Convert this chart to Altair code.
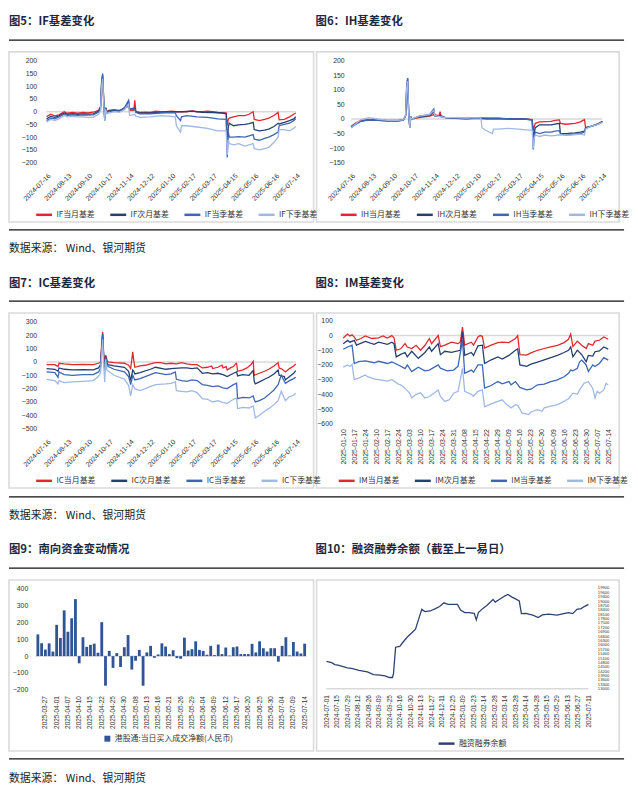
import altair as alt
import pandas as pd

NUMF = "Liberation Sans"
CJKF = "Noto Sans CJK SC"
W, H = 622, 782

# ---------------- trading calendars ----------------
CN_CLOSED = ["2024-09-16", "2024-09-17", "2024-10-01", "2024-10-02", "2024-10-03", "2024-10-04",
             "2024-10-07", "2025-01-01", "2025-01-28", "2025-01-29", "2025-01-30", "2025-01-31",
             "2025-02-03", "2025-02-04", "2025-04-04", "2025-05-01", "2025-05-02", "2025-05-05",
             "2025-06-02"]
HK_CLOSED = ["2025-04-18", "2025-04-21", "2025-07-01"]


def trading_days(start, end, closed):
    closed = set(closed)
    return [d.strftime("%Y-%m-%d") for d in pd.bdate_range(start, end)
            if d.strftime("%Y-%m-%d") not in closed]


DAYS_Y = trading_days("2024-07-16", "2025-07-14", CN_CLOSED)
DAYS_IM = trading_days("2025-01-10", "2025-07-14", CN_CLOSED)
DAYS_HK = trading_days("2025-03-25", "2025-07-14", CN_CLOSED + HK_CLOSED)
DAYS_MG = trading_days("2024-07-01", "2025-07-11", CN_CLOSED)

TICKS_Y = DAYS_Y[::20]
TICKS_IM = DAYS_IM[::5]
TICKS_HK = DAYS_HK[2::3]
TICKS_MG = DAYS_MG[::10]

# ---------------- IF basis ----------------
IF_NAMES = ["IF当月基差", "IF次月基差", "IF当季基差", "IF下季基差"]
IF_M0 = [("2024-07-16", -19), ("2024-07-22", -10), ("2024-07-26", -16), ("2024-08-01", -12), ("2024-08-08", 0),
         ("2024-08-13", -6), ("2024-08-20", -3), ("2024-08-27", -6), ("2024-09-03", -3), ("2024-09-10", -5),
         ("2024-09-19", -2), ("2024-09-26", 5), ("2024-09-30", 20), ("2024-10-08", 100), ("2024-10-09", 135),
         ("2024-10-10", 40), ("2024-10-11", -25), ("2024-10-14", 15), ("2024-10-15", 0), ("2024-10-17", 5),
         ("2024-10-24", 8), ("2024-10-31", 5), ("2024-11-07", 12), ("2024-11-11", 18), ("2024-11-13", 22),
         ("2024-11-14", 5), ("2024-11-20", 5), ("2024-11-21", 45), ("2024-11-22", 0), ("2024-11-28", -3),
         ("2024-12-05", -2), ("2024-12-12", -3), ("2024-12-19", 2), ("2024-12-26", 0), ("2025-01-03", 0),
         ("2025-01-10", 2), ("2025-01-17", 0), ("2025-01-24", 0), ("2025-02-10", 0), ("2025-02-17", 3),
         ("2025-02-24", 0), ("2025-03-03", 0), ("2025-03-10", 2), ("2025-03-17", 0), ("2025-03-24", -3),
         ("2025-03-31", -5), ("2025-04-03", -5), ("2025-04-07", -55), ("2025-04-08", -30), ("2025-04-09", -25),
         ("2025-04-15", -20), ("2025-04-22", -15), ("2025-04-30", -15), ("2025-05-09", -10), ("2025-05-15", 0),
         ("2025-05-16", -30), ("2025-05-23", -35), ("2025-05-30", -30), ("2025-06-06", -25), ("2025-06-13", -15),
         ("2025-06-19", -3), ("2025-06-20", -32), ("2025-06-27", -30), ("2025-07-04", -20), ("2025-07-10", -10),
         ("2025-07-14", -5)]
IF_M1 = [("2024-07-16", -28), ("2024-07-22", -18), ("2024-07-26", -22), ("2024-08-01", -16), ("2024-08-08", -5),
         ("2024-08-13", -10), ("2024-08-20", -8), ("2024-08-27", -10), ("2024-09-03", -8), ("2024-09-10", -9),
         ("2024-09-19", -8), ("2024-09-26", 2), ("2024-09-30", 15), ("2024-10-08", 120), ("2024-10-09", 145),
         ("2024-10-10", 50), ("2024-10-11", -30), ("2024-10-14", 15), ("2024-10-15", 0), ("2024-10-17", 3),
         ("2024-10-24", 5), ("2024-10-31", 3), ("2024-11-07", 15), ("2024-11-11", 25), ("2024-11-13", 40),
         ("2024-11-14", 10), ("2024-11-21", 15), ("2024-11-22", 0), ("2024-11-28", -5), ("2024-12-12", -5),
         ("2024-12-26", -2), ("2025-01-10", 0), ("2025-01-24", 0), ("2025-02-17", 2), ("2025-03-03", -2),
         ("2025-03-17", -3), ("2025-03-31", -5), ("2025-04-03", -8), ("2025-04-07", -150), ("2025-04-08", -60),
         ("2025-04-09", -45), ("2025-04-15", -55), ("2025-04-22", -52), ("2025-04-30", -50), ("2025-05-09", -47),
         ("2025-05-15", -42), ("2025-05-16", -70), ("2025-05-23", -75), ("2025-05-30", -72), ("2025-06-06", -68),
         ("2025-06-13", -58), ("2025-06-19", -45), ("2025-06-20", -48), ("2025-06-27", -42), ("2025-07-04", -35),
         ("2025-07-10", -28), ("2025-07-14", -20)]
IF_Q0 = [("2024-07-16", -35), ("2024-07-22", -25), ("2024-07-26", -28), ("2024-08-01", -20), ("2024-08-08", -10),
         ("2024-08-13", -14), ("2024-08-20", -12), ("2024-08-27", -14), ("2024-09-03", -12), ("2024-09-10", -13),
         ("2024-09-19", -12), ("2024-09-26", -2), ("2024-09-30", 10), ("2024-10-08", 110), ("2024-10-09", 150),
         ("2024-10-10", 55), ("2024-10-11", -35), ("2024-10-14", 15), ("2024-10-15", -2), ("2024-10-17", 0),
         ("2024-10-24", 3), ("2024-10-31", 2), ("2024-11-07", 15), ("2024-11-11", 30), ("2024-11-13", 45),
         ("2024-11-14", 10), ("2024-11-21", 10), ("2024-11-22", -3), ("2024-11-28", -8), ("2024-12-12", -8),
         ("2024-12-26", -5), ("2025-01-10", -3), ("2025-01-16", -4), ("2025-01-17", -15), ("2025-01-23", -35),
         ("2025-01-24", -20), ("2025-02-10", -15), ("2025-02-24", -20), ("2025-03-10", -22), ("2025-03-24", -28),
         ("2025-04-03", -30), ("2025-04-07", -180), ("2025-04-08", -80), ("2025-04-09", -100), ("2025-04-15", -100),
         ("2025-04-22", -98), ("2025-04-30", -100), ("2025-05-09", -95), ("2025-05-15", -90), ("2025-05-16", -108),
         ("2025-05-23", -112), ("2025-05-30", -105), ("2025-06-06", -100), ("2025-06-13", -90), ("2025-06-19", -80),
         ("2025-06-20", -55), ("2025-06-27", -50), ("2025-07-04", -45), ("2025-07-10", -35), ("2025-07-14", -28)]
IF_Q1 = [("2024-07-16", -40), ("2024-07-22", -30), ("2024-07-26", -35), ("2024-08-01", -28), ("2024-08-08", -15),
         ("2024-08-13", -20), ("2024-08-20", -18), ("2024-08-27", -20), ("2024-09-03", -20), ("2024-09-10", -22),
         ("2024-09-19", -22), ("2024-09-26", -10), ("2024-09-30", 5), ("2024-10-08", 95), ("2024-10-09", 130),
         ("2024-10-10", 40), ("2024-10-11", -35), ("2024-10-14", 10), ("2024-10-15", -8), ("2024-10-17", -5),
         ("2024-10-24", 0), ("2024-10-31", -2), ("2024-11-07", 8), ("2024-11-11", 20), ("2024-11-13", 30),
         ("2024-11-14", -15), ("2024-11-21", -10), ("2024-11-22", -18), ("2024-11-28", -22), ("2024-12-12", -20),
         ("2024-12-26", -15), ("2025-01-10", -18), ("2025-01-16", -20), ("2025-01-17", -55), ("2025-01-23", -80),
         ("2025-01-24", -55), ("2025-02-10", -55), ("2025-02-24", -60), ("2025-03-10", -65), ("2025-03-24", -75),
         ("2025-04-03", -75), ("2025-04-07", -170), ("2025-04-08", -110), ("2025-04-09", -125), ("2025-04-15", -130),
         ("2025-04-22", -125), ("2025-04-30", -135), ("2025-05-09", -130), ("2025-05-15", -125), ("2025-05-16", -145),
         ("2025-05-23", -150), ("2025-05-30", -145), ("2025-06-06", -140), ("2025-06-13", -120), ("2025-06-19", -100),
         ("2025-06-20", -70), ("2025-06-27", -70), ("2025-07-04", -75), ("2025-07-10", -65), ("2025-07-14", -58)]

# ---------------- IH basis ----------------
IH_NAMES = ["IH当月基差", "IH次月基差", "IH当季基差", "IH下季基差"]
IH_M0 = [("2024-07-16", -25), ("2024-07-22", -15), ("2024-07-29", -5), ("2024-08-08", -2), ("2024-08-20", -3),
         ("2024-09-03", -5), ("2024-09-19", -5), ("2024-09-26", -2), ("2024-09-30", 10), ("2024-10-08", 60),
         ("2024-10-09", 120), ("2024-10-10", 20), ("2024-10-11", -25), ("2024-10-14", 10), ("2024-10-15", 0),
         ("2024-10-24", 5), ("2024-11-07", 10), ("2024-11-13", 15), ("2024-11-20", 12), ("2024-11-21", 25),
         ("2024-11-22", 8), ("2024-11-28", 5), ("2024-12-12", 2), ("2024-12-26", 0), ("2025-01-10", 2),
         ("2025-01-24", 0), ("2025-02-17", 0), ("2025-03-10", 0), ("2025-03-24", 0), ("2025-04-03", -2),
         ("2025-04-07", -40), ("2025-04-08", -25), ("2025-04-09", -15), ("2025-04-15", -10), ("2025-04-30", -8),
         ("2025-05-09", -5), ("2025-05-15", -3), ("2025-05-16", -15), ("2025-05-23", -18), ("2025-06-06", -15),
         ("2025-06-13", -10), ("2025-06-19", -2), ("2025-06-20", -30), ("2025-06-27", -25), ("2025-07-04", -18),
         ("2025-07-10", -12), ("2025-07-14", -8)]
IH_M1 = [("2024-07-16", -28), ("2024-07-22", -18), ("2024-07-29", -8), ("2024-08-08", -3), ("2024-08-20", -4),
         ("2024-09-03", -6), ("2024-09-19", -6), ("2024-09-26", -3), ("2024-09-30", 10), ("2024-10-08", 100),
         ("2024-10-09", 140), ("2024-10-10", 20), ("2024-10-11", -30), ("2024-10-14", 5), ("2024-10-15", 0),
         ("2024-10-24", 8), ("2024-11-07", 12), ("2024-11-13", 25), ("2024-11-14", 10), ("2024-11-21", 12),
         ("2024-11-28", 5), ("2024-12-12", 3), ("2024-12-26", 2), ("2025-01-10", 3), ("2025-01-24", 2),
         ("2025-02-17", 3), ("2025-03-10", 0), ("2025-03-24", 0), ("2025-04-03", -3), ("2025-04-07", -80),
         ("2025-04-08", -45), ("2025-04-09", -30), ("2025-04-15", -20), ("2025-04-30", -20), ("2025-05-15", -15),
         ("2025-05-16", -50), ("2025-05-23", -50), ("2025-06-06", -48), ("2025-06-13", -45), ("2025-06-19", -42),
         ("2025-06-20", -30), ("2025-06-27", -25), ("2025-07-04", -20), ("2025-07-10", -14), ("2025-07-14", -10)]
IH_Q0 = [("2024-07-16", -30), ("2024-07-22", -20), ("2024-07-29", -8), ("2024-08-08", -2), ("2024-08-20", -5),
         ("2024-09-03", -7), ("2024-09-19", -7), ("2024-09-26", -3), ("2024-09-30", 12), ("2024-10-08", 110),
         ("2024-10-09", 141), ("2024-10-10", 25), ("2024-10-11", -30), ("2024-10-14", 5), ("2024-10-15", 0),
         ("2024-10-24", 10), ("2024-11-07", 15), ("2024-11-13", 35), ("2024-11-14", 12), ("2024-11-21", 10),
         ("2024-11-28", 5), ("2024-12-12", 3), ("2024-12-26", 2), ("2025-01-10", 4), ("2025-01-24", 3),
         ("2025-02-17", 2), ("2025-03-10", 0), ("2025-03-24", 0), ("2025-04-03", -3), ("2025-04-07", -105),
         ("2025-04-08", -60), ("2025-04-09", -45), ("2025-04-15", -50), ("2025-04-22", -45), ("2025-04-30", -45),
         ("2025-05-09", -42), ("2025-05-15", -40), ("2025-05-16", -50), ("2025-05-23", -55), ("2025-06-06", -52),
         ("2025-06-13", -50), ("2025-06-19", -45), ("2025-06-20", -32), ("2025-06-27", -25), ("2025-07-04", -20),
         ("2025-07-10", -14), ("2025-07-14", -8)]
IH_Q1 = [("2024-07-16", -30), ("2024-07-22", -18), ("2024-07-29", -3), ("2024-08-08", 5), ("2024-08-20", 0),
         ("2024-09-03", -5), ("2024-09-19", -5), ("2024-09-26", -2), ("2024-09-30", 12), ("2024-10-08", 100),
         ("2024-10-09", 130), ("2024-10-10", 20), ("2024-10-11", -30), ("2024-10-14", 5), ("2024-10-15", 0),
         ("2024-10-24", 10), ("2024-11-07", 15), ("2024-11-13", 30), ("2024-11-14", 12), ("2024-11-21", 8),
         ("2024-11-28", 5), ("2024-12-12", 5), ("2024-12-26", 3), ("2025-01-10", 5), ("2025-01-16", 3),
         ("2025-01-17", -30), ("2025-01-22", -38), ("2025-02-10", -50), ("2025-02-11", -35), ("2025-02-17", -35),
         ("2025-03-03", -32), ("2025-03-17", -35), ("2025-03-31", -38), ("2025-04-03", -38), ("2025-04-07", -100),
         ("2025-04-08", -65), ("2025-04-09", -55), ("2025-04-15", -60), ("2025-04-22", -55), ("2025-04-30", -58),
         ("2025-05-15", -55), ("2025-05-16", -55), ("2025-05-30", -55), ("2025-06-13", -52), ("2025-06-19", -55),
         ("2025-06-20", -35), ("2025-06-27", -25), ("2025-07-04", -20), ("2025-07-10", -15), ("2025-07-14", -12)]

# ---------------- IC basis ----------------
IC_NAMES = ["IC当月基差", "IC次月基差", "IC当季基差", "IC下季基差"]
IC_M0 = [("2024-07-16", -20), ("2024-07-26", -20), ("2024-07-31", -35), ("2024-08-01", -10), ("2024-08-08", -15),
         ("2024-08-20", -20), ("2024-09-03", -18), ("2024-09-19", -20), ("2024-09-26", -10), ("2024-09-30", 0),
         ("2024-10-08", 120), ("2024-10-09", 225), ("2024-10-10", 60), ("2024-10-11", 10), ("2024-10-14", 50),
         ("2024-10-15", 20), ("2024-10-16", 0), ("2024-10-24", -5), ("2024-11-07", -10), ("2024-11-13", -25),
         ("2024-11-15", -50), ("2024-11-19", 75), ("2024-11-20", 10), ("2024-11-21", -40), ("2024-11-28", -30),
         ("2024-12-05", -25), ("2024-12-12", -15), ("2024-12-19", -5), ("2024-12-26", -5), ("2025-01-03", -15),
         ("2025-01-10", -10), ("2025-01-17", -15), ("2025-01-24", -5), ("2025-02-10", -15), ("2025-02-17", -20),
         ("2025-02-24", -20), ("2025-03-03", -45), ("2025-03-10", -40), ("2025-03-14", -30), ("2025-03-17", -50),
         ("2025-03-24", -40), ("2025-03-28", -25), ("2025-03-31", -45), ("2025-04-03", -35), ("2025-04-07", -60),
         ("2025-04-10", -45), ("2025-04-15", -35), ("2025-04-17", -15), ("2025-04-18", -10), ("2025-04-21", -70),
         ("2025-04-28", -60), ("2025-05-07", -45), ("2025-05-13", -20), ("2025-05-15", 5), ("2025-05-16", -100),
         ("2025-05-23", -85), ("2025-05-30", -70), ("2025-06-06", -55), ("2025-06-13", -30), ("2025-06-19", -5),
         ("2025-06-20", -45), ("2025-06-25", -55), ("2025-06-30", -75), ("2025-07-04", -50), ("2025-07-10", -30),
         ("2025-07-14", -15)]
IC_M1 = [("2024-07-16", -50), ("2024-07-26", -55), ("2024-07-31", -70), ("2024-08-01", -45), ("2024-08-08", -55),
         ("2024-08-20", -60), ("2024-09-03", -58), ("2024-09-19", -60), ("2024-09-26", -45), ("2024-09-30", -20),
         ("2024-10-08", 100), ("2024-10-09", 210), ("2024-10-10", 40), ("2024-10-11", -30), ("2024-10-14", 40),
         ("2024-10-15", 0), ("2024-10-16", -20), ("2024-10-24", -30), ("2024-11-07", -40), ("2024-11-13", -70),
         ("2024-11-15", -140), ("2024-11-19", -60), ("2024-11-20", -70), ("2024-11-21", -90), ("2024-11-28", -80),
         ("2024-12-12", -55), ("2024-12-19", -40), ("2025-01-03", -55), ("2025-01-10", -50), ("2025-01-24", -45),
         ("2025-02-10", -45), ("2025-02-17", -50), ("2025-02-24", -45), ("2025-03-03", -85), ("2025-03-10", -80),
         ("2025-03-17", -90), ("2025-03-24", -85), ("2025-03-31", -95), ("2025-04-07", -110), ("2025-04-15", -85),
         ("2025-04-18", -75), ("2025-04-21", -105), ("2025-04-28", -95), ("2025-05-09", -100), ("2025-05-15", -65),
         ("2025-05-16", -145), ("2025-05-19", -165), ("2025-05-23", -150), ("2025-05-30", -130), ("2025-06-06", -115),
         ("2025-06-13", -90), ("2025-06-19", -60), ("2025-06-20", -100), ("2025-06-27", -110), ("2025-06-30", -135),
         ("2025-07-04", -110), ("2025-07-10", -85), ("2025-07-14", -65)]
IC_Q0 = [("2024-07-16", -75), ("2024-07-26", -80), ("2024-07-31", -115), ("2024-08-01", -75), ("2024-08-08", -95),
         ("2024-08-20", -100), ("2024-09-03", -95), ("2024-09-19", -95), ("2024-09-26", -75), ("2024-09-30", -45),
         ("2024-10-08", 80), ("2024-10-09", 205), ("2024-10-10", 30), ("2024-10-11", -70), ("2024-10-14", 35),
         ("2024-10-15", -30), ("2024-10-24", -55), ("2024-11-07", -75), ("2024-11-13", -110), ("2024-11-15", -170),
         ("2024-11-19", -100), ("2024-11-21", -135), ("2024-11-28", -125), ("2024-12-12", -95), ("2024-12-19", -80),
         ("2025-01-03", -95), ("2025-01-10", -90), ("2025-01-16", -75), ("2025-01-17", -130), ("2025-01-24", -140),
         ("2025-02-10", -145), ("2025-02-17", -135), ("2025-02-24", -140), ("2025-03-03", -170), ("2025-03-10", -175),
         ("2025-03-17", -185), ("2025-03-24", -180), ("2025-03-31", -195), ("2025-04-07", -200), ("2025-04-15", -170),
         ("2025-04-18", -160), ("2025-04-21", -275), ("2025-04-28", -265), ("2025-05-09", -270), ("2025-05-15", -255),
         ("2025-05-16", -280), ("2025-05-19", -300), ("2025-05-23", -290), ("2025-05-30", -270), ("2025-06-06", -245),
         ("2025-06-13", -210), ("2025-06-19", -170), ("2025-06-24", -100), ("2025-06-30", -160), ("2025-07-04", -140),
         ("2025-07-10", -125), ("2025-07-14", -115)]
IC_Q1 = [("2024-07-16", -130), ("2024-07-26", -140), ("2024-07-31", -165), ("2024-08-01", -140), ("2024-08-08", -155),
         ("2024-08-20", -150), ("2024-09-03", -145), ("2024-09-19", -140), ("2024-09-26", -110), ("2024-09-30", -80),
         ("2024-10-08", 50), ("2024-10-09", 170), ("2024-10-10", -20), ("2024-10-11", -150), ("2024-10-14", 20),
         ("2024-10-15", -60), ("2024-10-24", -100), ("2024-11-07", -130), ("2024-11-13", -175), ("2024-11-15", -255),
         ("2024-11-19", -170), ("2024-11-21", -200), ("2024-11-28", -215), ("2024-12-12", -185), ("2024-12-19", -170),
         ("2025-01-03", -165), ("2025-01-10", -160), ("2025-01-16", -150), ("2025-01-17", -215), ("2025-01-24", -220),
         ("2025-02-10", -225), ("2025-02-17", -215), ("2025-02-24", -230), ("2025-03-03", -275), ("2025-03-10", -280),
         ("2025-03-17", -300), ("2025-03-24", -290), ("2025-03-31", -305), ("2025-04-07", -310), ("2025-04-15", -280),
         ("2025-04-18", -270), ("2025-04-21", -350), ("2025-04-28", -340), ("2025-05-09", -345), ("2025-05-15", -330),
         ("2025-05-16", -370), ("2025-05-19", -420), ("2025-05-23", -400), ("2025-05-30", -370), ("2025-06-06", -350),
         ("2025-06-13", -320), ("2025-06-19", -290), ("2025-06-24", -220), ("2025-06-30", -290), ("2025-07-04", -260),
         ("2025-07-10", -250), ("2025-07-14", -235)]

# ---------------- IM basis ----------------
IM_NAMES = ["IM当月基差", "IM次月基差", "IM当季基差", "IM下季基差"]
IM_M0 = [("2025-01-10", -17), ("2025-01-14", 10), ("2025-01-15", -3), ("2025-01-16", 5), ("2025-01-17", -10),
         ("2025-01-20", -32), ("2025-01-22", -20), ("2025-01-24", -3), ("2025-02-06", -20), ("2025-02-11", -15),
         ("2025-02-13", -3), ("2025-02-17", -17), ("2025-02-19", 0), ("2025-02-20", -15), ("2025-02-21", -100),
         ("2025-02-25", -90), ("2025-02-27", -55), ("2025-02-28", -78), ("2025-03-04", -88), ("2025-03-06", -66),
         ("2025-03-10", -100), ("2025-03-12", -66), ("2025-03-14", -20), ("2025-03-17", -55), ("2025-03-20", 0),
         ("2025-03-21", -75), ("2025-03-25", -65), ("2025-03-28", -45), ("2025-04-02", -55), ("2025-04-03", -45),
         ("2025-04-07", 57), ("2025-04-08", -65), ("2025-04-11", -45), ("2025-04-14", -65), ("2025-04-16", -10),
         ("2025-04-17", 0), ("2025-04-18", -5), ("2025-04-21", -85), ("2025-04-24", -65), ("2025-04-29", -48),
         ("2025-05-06", -45), ("2025-05-09", -48), ("2025-05-14", -20), ("2025-05-15", 0), ("2025-05-16", -130),
         ("2025-05-21", -133), ("2025-05-23", -118), ("2025-05-28", -100), ("2025-06-03", -88), ("2025-06-06", -77),
         ("2025-06-11", -66), ("2025-06-16", -48), ("2025-06-18", -25), ("2025-06-19", 10), ("2025-06-20", -75),
         ("2025-06-24", -38), ("2025-06-26", -66), ("2025-06-30", -88), ("2025-07-01", -55), ("2025-07-03", -66),
         ("2025-07-04", -38), ("2025-07-08", -32), ("2025-07-10", -10), ("2025-07-14", -25)]
IM_M1 = [("2025-01-10", -55), ("2025-01-14", -33), ("2025-01-15", -45), ("2025-01-17", -33), ("2025-01-20", -65),
         ("2025-01-24", -40), ("2025-02-07", -60), ("2025-02-11", -45), ("2025-02-17", -60), ("2025-02-19", -45),
         ("2025-02-20", -55), ("2025-02-21", -145), ("2025-02-25", -128), ("2025-02-27", -115), ("2025-02-28", -145),
         ("2025-03-04", -107), ("2025-03-07", -155), ("2025-03-12", -115), ("2025-03-14", -77), ("2025-03-17", -107),
         ("2025-03-20", -55), ("2025-03-21", -130), ("2025-03-25", -107), ("2025-03-28", -115), ("2025-04-03", -100),
         ("2025-04-07", 25), ("2025-04-08", -135), ("2025-04-11", -115), ("2025-04-14", -135), ("2025-04-16", -70),
         ("2025-04-18", -65), ("2025-04-21", -190), ("2025-04-24", -165), ("2025-04-29", -145), ("2025-05-06", -160),
         ("2025-05-09", -135), ("2025-05-14", -100), ("2025-05-15", -90), ("2025-05-16", -200), ("2025-05-21", -210),
         ("2025-05-23", -195), ("2025-05-28", -180), ("2025-06-03", -165), ("2025-06-06", -150), ("2025-06-11", -135),
         ("2025-06-16", -115), ("2025-06-18", -100), ("2025-06-19", -77), ("2025-06-20", -145), ("2025-06-24", -100),
         ("2025-06-26", -130), ("2025-06-30", -178), ("2025-07-01", -135), ("2025-07-03", -140), ("2025-07-04", -110),
         ("2025-07-08", -105), ("2025-07-10", -78), ("2025-07-14", -92)]
IM_Q0 = [("2025-01-10", -93), ("2025-01-14", -78), ("2025-01-16", -65), ("2025-01-17", -190), ("2025-01-21", -178),
         ("2025-01-24", -172), ("2025-02-07", -185), ("2025-02-11", -175), ("2025-02-17", -190), ("2025-02-19", -180),
         ("2025-02-24", -200), ("2025-02-27", -225), ("2025-02-28", -200), ("2025-03-04", -245), ("2025-03-07", -215),
         ("2025-03-12", -240), ("2025-03-14", -235), ("2025-03-20", -200), ("2025-03-21", -222), ("2025-03-26", -240),
         ("2025-03-31", -235), ("2025-04-02", -208), ("2025-04-07", -30), ("2025-04-08", -257), ("2025-04-11", -235),
         ("2025-04-14", -250), ("2025-04-16", -200), ("2025-04-18", -200), ("2025-04-21", -358), ("2025-04-24", -340),
         ("2025-04-29", -313), ("2025-05-06", -328), ("2025-05-09", -313), ("2025-05-12", -335), ("2025-05-14", -313),
         ("2025-05-16", -353), ("2025-05-21", -370), ("2025-05-23", -365), ("2025-05-28", -335), ("2025-06-03", -330),
         ("2025-06-06", -313), ("2025-06-11", -302), ("2025-06-16", -280), ("2025-06-18", -257), ("2025-06-19", -235),
         ("2025-06-20", -240), ("2025-06-24", -223), ("2025-06-25", -180), ("2025-06-26", -167), ("2025-06-30", -200),
         ("2025-07-01", -245), ("2025-07-03", -200), ("2025-07-04", -210), ("2025-07-08", -190), ("2025-07-10", -150),
         ("2025-07-14", -167)]
IM_Q1 = [("2025-01-10", -215), ("2025-01-14", -200), ("2025-01-15", -210), ("2025-01-16", -196), ("2025-01-17", -300),
         ("2025-01-21", -290), ("2025-01-24", -268), ("2025-01-27", -280), ("2025-02-07", -295), ("2025-02-11", -300),
         ("2025-02-17", -310), ("2025-02-19", -300), ("2025-02-24", -330), ("2025-02-25", -335), ("2025-02-27", -358),
         ("2025-02-28", -375), ("2025-03-03", -390), ("2025-03-04", -425), ("2025-03-06", -400), ("2025-03-10", -390),
         ("2025-03-12", -425), ("2025-03-14", -415), ("2025-03-20", -370), ("2025-03-21", -415), ("2025-03-25", -448),
         ("2025-03-27", -437), ("2025-03-31", -392), ("2025-04-02", -380), ("2025-04-07", -223), ("2025-04-08", -380),
         ("2025-04-11", -400), ("2025-04-14", -413), ("2025-04-16", -380), ("2025-04-18", -370), ("2025-04-21", -485),
         ("2025-04-24", -465), ("2025-04-29", -448), ("2025-05-06", -437), ("2025-05-08", -470), ("2025-05-12", -492),
         ("2025-05-14", -470), ("2025-05-15", -475), ("2025-05-16", -500), ("2025-05-19", -527), ("2025-05-22", -538),
         ("2025-05-23", -520), ("2025-05-28", -504), ("2025-05-30", -515), ("2025-06-03", -492), ("2025-06-06", -480),
         ("2025-06-11", -470), ("2025-06-16", -448), ("2025-06-18", -430), ("2025-06-20", -392), ("2025-06-24", -400),
         ("2025-06-25", -370), ("2025-06-27", -325), ("2025-07-01", -314), ("2025-07-03", -360), ("2025-07-04", -425),
         ("2025-07-07", -380), ("2025-07-08", -392), ("2025-07-10", -370), ("2025-07-11", -325), ("2025-07-14", -336)]

# ---------------- southbound flows ----------------
SB_NAME = "港股通:当日买入成交净额(人民币)"
SB_VALUES = [129, 76, 39, 76, 27, 186, 108, 272, 145, 225, 339, -43, 112, 55, 67, 74, 20, 202, -176, 31,
             -70, 18, -65, 53, 125, -80, -27, 37, -176, 22, 61, -10, 10, 76, 57, 12, 35, -12, -16, 110,
             33, 41, 88, 37, 31, 8, 61, 6, 69, 12, 51, 3, 53, 57, 12, 12, 12, 73, 22, 88,
             47, 27, 47, 47, -33, 61, 112, 4, 84, 27, 16, 74]

# ---------------- margin balance ----------------
MG_NAME = "融资融券余额"
MARGIN = [("2024-07-01", 14870), ("2024-07-08", 14780), ("2024-07-11", 14650), ("2024-07-17", 14600),
          ("2024-07-29", 14420), ("2024-08-05", 14380), ("2024-08-13", 14260), ("2024-08-23", 14150),
          ("2024-09-02", 13970), ("2024-09-10", 13925), ("2024-09-19", 13880), ("2024-09-25", 13770),
          ("2024-09-30", 13770), ("2024-10-08", 14040), ("2024-10-10", 15840), ("2024-10-16", 15890),
          ("2024-10-21", 16180), ("2024-10-25", 16520), ("2024-11-01", 16860), ("2024-11-06", 17080),
          ("2024-11-11", 17760), ("2024-11-14", 18430), ("2024-11-19", 18280), ("2024-11-26", 18320),
          ("2024-12-03", 18480), ("2024-12-09", 18620), ("2024-12-13", 18880), ("2024-12-19", 18770),
          ("2025-01-02", 18770), ("2025-01-07", 18390), ("2025-01-13", 18210), ("2025-01-17", 18210),
          ("2025-01-24", 18160), ("2025-02-05", 17710), ("2025-02-07", 18210), ("2025-02-13", 18480),
          ("2025-02-19", 18700), ("2025-02-27", 19110), ("2025-03-03", 18930), ("2025-03-10", 19160),
          ("2025-03-14", 19340), ("2025-03-19", 19450), ("2025-03-25", 19270), ("2025-03-28", 19160),
          ("2025-04-03", 19000), ("2025-04-08", 18140), ("2025-04-14", 18160), ("2025-04-23", 18030),
          ("2025-04-30", 17870), ("2025-05-09", 18050), ("2025-05-19", 18100), ("2025-05-29", 18030),
          ("2025-06-05", 18100), ("2025-06-16", 18210), ("2025-06-20", 18140), ("2025-06-26", 18430),
          ("2025-07-02", 18480), ("2025-07-07", 18620), ("2025-07-11", 18770)]

BASIS_COLORS = ["#E0282E", "#263F73", "#3D66B3", "#9FB8E6"]

TITLES = [(0, 10, "图5：IF基差变化"), (310, 10, "图6：IH基差变化"),
          (0, 275, "图7：IC基差变化"), (310, 275, "图8：IM基差变化"),
          (0, 544, "图9：南向资金变动情况"), (310, 544, "图10：融资融券余额（截至上一易日）")]
SOURCE_TEXT = "数据来源：  Wind、银河期货"
SOURCE_Y = [239, 509, 775]
RULE_Y = [28, 220, 292, 490, 562, 755]
FRAMES = [(0, 308, 40, 212), (311, 617, 40, 212), (0, 308, 304, 481), (311, 617, 304, 481),
          (0, 308, 574, 747), (311, 617, 574, 747)]


def snap(d, days):
    if d in days:
        return d
    later = [x for x in days if x >= d]
    return later[0] if later else days[-1]


def long_df(names, series, days):
    rows = []
    for name, pts in zip(names, series):
        for d, v in pts:
            rows.append({"date": snap(d, days), "value": v, "series": name})
    return pd.DataFrame(rows)


def x_axis(ticks, offset, angle, size=7):
    return alt.Axis(values=ticks, orient="bottom", offset=offset, labelAngle=angle, domain=False,
                    ticks=False, grid=False, title=None, labelFontSize=size, labelFont=NUMF,
                    labelColor="#333333", labelPadding=1, labelOverlap=False, labelFlush=False)


def y_axis(vals, offset, orient="left", size=7):
    return alt.Axis(values=vals, orient=orient, offset=offset, domain=False, ticks=False, grid=False,
                    title=None, labelFontSize=size, labelFont=NUMF, labelColor="#333333", labelPadding=2,
                    format="d", labelOverlap=False, labelFlush=False)


def legend(lx, ly, sym="stroke"):
    return alt.Legend(title=None, orient="none", legendX=lx, legendY=ly, direction="horizontal",
                      symbolType=sym, symbolSize=260 if sym == "stroke" else 36, symbolStrokeWidth=2.5,
                      labelFontSize=8, labelFont=CJKF, labelColor="#333333", columnPadding=10, labelOffset=3)


def basis_panel(names, series, days, ticks, xr, ydom, yr, ystep, y_off, x_off, angle, lx, ly):
    df = long_df(names, series, days)
    xenc = alt.X("date:O", scale=alt.Scale(type="point", domain=days, range=xr, padding=0),
                 axis=x_axis(ticks, x_off, angle))
    yenc = alt.Y("value:Q", scale=alt.Scale(domain=ydom, range=yr, nice=False, zero=False),
                 axis=y_axis(list(range(ydom[0], ydom[1] + 1, ystep)), y_off))
    zero = alt.Chart(pd.DataFrame({"date": [days[0], days[-1]], "value": [0, 0]})).mark_line(
        color="#D9D9D9", strokeWidth=1.5).encode(x=xenc, y=yenc)
    lines = alt.Chart(df).mark_line(strokeWidth=1.3).encode(
        x=xenc, y=yenc,
        color=alt.Color("series:N", scale=alt.Scale(domain=names, range=BASIS_COLORS),
                        legend=legend(lx, ly)))
    return alt.layer(zero, lines)


p5 = basis_panel(IF_NAMES, [IF_M0, IF_M1, IF_Q0, IF_Q1], DAYS_Y, TICKS_Y, [38, 290], [-200, 200], [152, 49],
                 50, -30, 160 - H, 315, 26, 195)
p6 = basis_panel(IH_NAMES, [IH_M0, IH_M1, IH_Q0, IH_Q1], DAYS_Y, TICKS_Y, [346, 600], [-150, 200], [152, 49],
                 50, -341, 160 - H, 315, 334, 195)
p7 = basis_panel(IC_NAMES, [IC_M0, IC_M1, IC_Q0, IC_Q1], DAYS_Y, TICKS_Y, [38, 290], [-500, 300], [421, 313],
                 100, -30, 429 - H, 315, 26, 464)
p8 = basis_panel(IM_NAMES, [IM_M0, IM_M1, IM_Q0, IM_Q1], DAYS_IM, TICKS_IM, [338, 606], [-600, 100], [416, 312],
                 100, -329, 420 - H, 270, 332, 464)

# ---- panel 9: southbound bars ----
df9 = pd.DataFrame({"date": DAYS_HK, "value": SB_VALUES, "series": SB_NAME})
y9 = alt.Y("value:Q", scale=alt.Scale(domain=[-200, 400], range=[685, 583], nice=False),
           axis=y_axis(list(range(-200, 401, 100)), -21))
zero9 = alt.Chart(pd.DataFrame({"value": [0]})).mark_rule(color="#D9D9D9", strokeWidth=1.2).encode(
    y=y9, x=alt.value(27), x2=alt.value(301))
bars9 = alt.Chart(df9).mark_bar().encode(
    x=alt.X("date:O", scale=alt.Scale(type="band", domain=DAYS_HK, range=[27.3, 300.9],
                                      paddingInner=0.25, paddingOuter=0.125),
            axis=x_axis(TICKS_HK, 690 - H, 270, 6.5)),
    y=y9,
    color=alt.Color("series:N", scale=alt.Scale(domain=[SB_NAME], range=["#2F5597"]),
                    legend=legend(95, 730, "square")))
p9 = alt.layer(zero9, bars9)

# ---- panel 10: margin balance ----
df10 = long_df([MG_NAME], [MARGIN], DAYS_MG)
x10 = alt.X("date:O", scale=alt.Scale(type="point", domain=DAYS_MG, range=[321, 586], padding=0),
            axis=x_axis(TICKS_MG, 689 - H, 270, 6.5))
y10 = alt.Y("value:Q", scale=alt.Scale(domain=[13000, 19900], range=[684, 582], nice=False, zero=False),
            axis=y_axis(list(range(13000, 19901, 300)), 593 - W, "right", 4.2))
base10 = alt.Chart(pd.DataFrame({"date": [DAYS_MG[0], DAYS_MG[-1]], "value": [13000, 13000]})).mark_line(
    color="#D9D9D9", strokeWidth=1.5).encode(x=x10, y=y10)
line10 = alt.Chart(df10).mark_line(strokeWidth=1.3).encode(
    x=x10, y=y10,
    color=alt.Color("series:N", scale=alt.Scale(domain=[MG_NAME], range=["#2E4272"]),
                    legend=legend(433, 730)))
p10 = alt.layer(base10, line10)

# ---- page decorations ----
PX = lambda f: alt.X(f, scale=None, axis=None)
PY = lambda f: alt.Y(f, scale=None, axis=None)

frames = alt.Chart(pd.DataFrame(FRAMES, columns=["x", "x2", "y", "y2"])).mark_rect(
    fillOpacity=0, stroke="#DADADA", strokeWidth=1.6).encode(
    x=PX("x:Q"), x2="x2:Q", y=PY("y:Q"), y2="y2:Q")
rules = alt.Chart(pd.DataFrame({"x": [0] * 6, "x2": [W] * 6, "y": RULE_Y})).mark_rule(
    color="#111111", strokeWidth=1.2).encode(x=PX("x:Q"), x2="x2:Q", y=PY("y:Q"))
titles = alt.Chart(pd.DataFrame(TITLES, columns=["x", "y", "t"])).mark_text(
    align="left", baseline="middle", font=CJKF, fontSize=11.5, fontWeight="bold", color="#1C2740").encode(
    x=PX("x:Q"), y=PY("y:Q"), text="t:N")
sources = alt.Chart(pd.DataFrame({"x": [0] * 3, "y": SOURCE_Y, "t": [SOURCE_TEXT] * 3})).mark_text(
    align="left", baseline="middle", font=CJKF, fontSize=11, color="#222222").encode(
    x=PX("x:Q"), y=PY("y:Q"), text="t:N")

chart = alt.layer(frames, rules, titles, sources, p5, p6, p7, p8, p9, p10).resolve_scale(
    x="independent", y="independent", color="independent"
).resolve_axis(x="independent", y="independent").resolve_legend(color="independent").properties(
    width=W, height=H, padding=0
).configure_view(strokeWidth=0)

chart.save("out.html", embed_options={"renderer": "svg", "actions": False})
